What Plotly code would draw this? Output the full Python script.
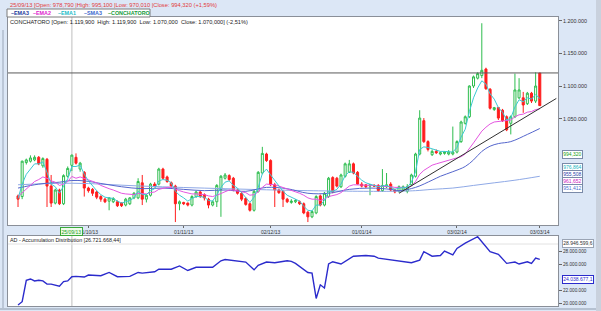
import plotly.graph_objects as go
import pandas as pd

# ---------------- data ----------------
dates = pd.bdate_range("2013-09-06", "2014-03-03")
date_labels = [d.strftime("%d/%m/%y") for d in dates]
idx = list(range(len(dates)))

# OHLC in thousands of CLP
opens = [932,931,983,985,987,991,978,988,947,921,
         941,920,962,978.79,991,973,968,944,942,938,
         931,927,924,923,923,921,918,920,929,929,
         952,927,933,950,950,973,961,952,947,920,
         922,921,918,931,938,934,927,918,923,942,
         959,963,959,941,936,928,920,910,939,967,
         996,986,949,941,939,927,922,923,923,920,
         907,900,906,932,918,931,960,959,946,962,
         968,981,968,950,949,947,948,948,940,946,
         950,941,939,941,939,949,962,996,1047,1015,
         995,1000,996,997,996,996,999,1015,1043,1053,
         1100,1112,1116,1126,1095,1064,1067,1063,1053,1043,
         1053,1082,1082,1073,1089,1077,1119.9]
highs = [934,986,989,994,994,993,991,990,964,943,
         943,965,977,995.1,997,984,970,946,944,940,
         933,929,930,930,925,922,929,930,938,959,
         964,935,952,953,975,975,963,954,949,925,
         923,922,933,940,940,936,929,925,950,964,
         967,965,961,943,938,930,922,941,970,1007,
         998,988,952,943,941,929,927,927,925,922,
         909,910,933,934,938,961,962,961,966,983,
         987,983,970,953,950,950,950,950,973,967,
         953,943,948,948,950,966,998,1063,1051,1017,
         1003,1003,1000,1000,1002,1038,1017,1047,1055,1101,
         1116,1121,1196,1128,1097,1068,1068,1065,1055,1055,
         1119,1112,1091,1091,1091,1121,1119.9]
lows = [915,927,980,983,985,979,975,915,915,919,
        918,918,960,970.01,980,969,931,937,932,927,
        923,921,910,921,915,915,916,918,927,927,
        918,922,931,945,948,957,952,945,892,910,
        918,916,916,929,929,925,913,916,915,900,
        957,955,939,934,924,917,908,908,937,965,
        984,947,915,935,915,921,920,921,918,904,
        892,898,904,916,916,929,936,945,944,960,
        967,965,949,945,944,933,946,938,938,944,
        939,936,937,939,936,947,960,994,1013,1000,
        993,996,994,995,994,994,997,1013,1041,1051,
        1097,1110,1112,1094,1064,1062,1048,1045,1031,1026,
        1051,1080,1059,1071,1074,1074,1070.0]
closes = [927,985,987,990,991,981,989,947,921,941,
          920,963,974,994.32,982,982,944,940,936,930,
          927,923,929,928,917,917,927,929,936,954,
          927,933,950,947,973,959,954,947,920,923,
          920,918,931,938,931,929,918,923,948,962,
          964,957,941,936,927,919,910,939,968,997,
          986,949,941,937,927,923,924,925,920,906,
          900,908,931,918,936,959,938,947,964,981,
          981,967,950,947,946,949,947,940,948,949,
          941,938,946,946,946,964,996,1051,1015,1003,
          1000,998,998,999,999,999,1015,1045,1053,1100,
          1114,1119,1124,1096,1066,1067,1051,1047,1033,1053,
          1094,1094,1071,1089,1077,1100,1070.0]

ema1 = [928,950,965,974,981,981,984,968,950,946,
        936,947,958,977,977,979,965,955,947,940,
        934,930,929,928,924,921,923,925,929,939,
        934,934,940,943,955,957,956,952,939,933,
        929,924,928,931,931,930,925,924,934,945,
        953,955,948,944,937,930,922,930,945,966,
        973,964,955,948,939,933,930,928,924,916,
        910,909,918,918,925,939,939,942,950,963,
        969,968,962,956,952,950,949,946,947,948,
        945,942,944,945,945,953,969,1003,1007,1006,
        1004,1002,1000,1000,999,999,1006,1022,1034,1061,
        1082,1097,1108,1103,1088,1080,1067,1060,1048,1051,
        1068,1079,1076,1082,1080,1087,1081]
ema2 = [931,937,943,948,954,957,961,959,955,953,
        948,950,954,961.7,959,961,959,957,955,952,
        948,945,943,941,938,936,935,934,934,936,
        935,935,937,938,942,944,945,945,942,940,
        938,936,935,935,935,934,932,931,933,936,
        939,941,941,940,939,937,933,934,938,945,
        950,950,949,947,945,942,940,938,936,933,
        929,927,927,925,927,931,932,934,937,942,
        947,949,949,949,948,948,948,947,947,947,
        946,945,945,945,945,947,954,965,971,975,
        979,981,983,985,987,988,990,992,996,1004,
        1013,1022,1031,1037,1042,1045,1046,1047,1047,1048,
        1053,1056,1057,1060,1061,1064,1065]
ema3_x = [0,5,10,13,16,20,25,30,35,40,45,50,55,60,65,70,75,80,85,90,92,96,100,102,105,108,110,112,114,116,119,123,126]
ema3 = [944,950,953,955.5,955,951,946,943,944,942,940,941,939,945,943,936,936,942,944,942,940,945,956,962,969,977,987,1000,1008,1012,1015,1026,1035]
sma3_x = [0,13,30,50,70,90,96,100,105,110,115,120,126]
sma3 = [949,951.4,947,943,940,939,940,942,944,948,952,956,962]

trend_x = [92, 130]
trend_y = [936, 1081]
resistance = 1120

# Accumulation distribution (millions)
ad_x = [0,1,2,3,4,5,6,7,8,10,11,12,13,14,16,17,20,22,24,27,29,30,33,34,37,39,41,43,47,49,50,
        55,57,58,60,62,65,66,67,68,70,71,72,73,74,75,76,78,81,84,86,87,91,95,97,98,100,102,103,
        105,106,108,111,112,114,116,118,120,121,123,124,125,126]
ad_y = [19.7,20.2,23.5,23.7,23.4,23.5,23.4,22.9,22.9,22.6,23.3,23.4,24.04,24.1,24.0,24.3,24.2,24.7,24.05,24.1,24.7,24.6,24.8,25.2,25.2,25.7,25.0,25.5,25.5,26.5,26.7,
        26.3,25.1,25.8,26.3,26.2,26.5,26.4,26.1,25.6,24.7,24.6,20.7,22.8,22.3,26.0,26.35,26.0,27.2,27.3,27.2,26.9,26.5,26.2,26.6,27.9,27.2,27.3,28.0,
        27.4,28.4,29.2,30.2,29.4,27.9,27.5,26.1,26.3,26.0,26.35,26.1,26.9,26.72]

price_ticks = [1050000, 1100000, 1150000, 1200000]
ad_ticks = [20e6, 22e6, 26e6, 28e6]
cursor_label = "25/09/13"
tag_values = [994.320, 976.864, 955.508, 961.652, 951.412]

# ---------------- helpers ----------------
K = 1000
W, H = 601, 311
def px(x): return x / W
def py(y): return (H - y) / H

cursor = date_labels.index(cursor_label)
month_ticks = [i for i in range(1, len(dates)) if dates[i].month != dates[i - 1].month]

FONT = "Liberation Sans"
fig = go.Figure()

fig.add_trace(go.Candlestick(
    x=idx, open=[v * K for v in opens], high=[v * K for v in highs],
    low=[v * K for v in lows], close=[v * K for v in closes],
    increasing=dict(line=dict(color="#2ebd4e", width=1), fillcolor="#ffffff"),
    decreasing=dict(line=dict(color="#ff1e1e", width=1), fillcolor="#ff1e1e"),
    whiskerwidth=0, xaxis="x", yaxis="y", hoverinfo="skip", showlegend=False))

fig.add_trace(go.Scatter(x=sma3_x, y=[v * K for v in sma3], mode="lines", line_shape="spline",
                         line=dict(color="#8fa9e6", width=1), xaxis="x", yaxis="y", showlegend=False))
fig.add_trace(go.Scatter(x=ema3_x, y=[v * K for v in ema3], mode="lines", line_shape="spline",
                         line=dict(color="#5566cc", width=1), xaxis="x", yaxis="y", showlegend=False))
fig.add_trace(go.Scatter(x=idx, y=[v * K for v in ema2], mode="lines",
                         line=dict(color="#e455e0", width=1), xaxis="x", yaxis="y", showlegend=False))
fig.add_trace(go.Scatter(x=idx, y=[v * K for v in ema1], mode="lines",
                         line=dict(color="#3cc8d2", width=1), xaxis="x", yaxis="y", showlegend=False))
fig.add_trace(go.Scatter(x=trend_x, y=[v * K for v in trend_y], mode="lines",
                         line=dict(color="#303030", width=1), xaxis="x", yaxis="y", showlegend=False))

fig.add_trace(go.Scatter(x=ad_x, y=[v * 1e6 for v in ad_y], mode="lines",
                         line=dict(color="#2b2bcc", width=1.4), xaxis="x2", yaxis="y2", showlegend=False))

xrange = [-2.42, 130.4]
axis_common = dict(showgrid=False, zeroline=False, showline=True, mirror=True,
                   linecolor="#8a8f98", linewidth=1)
fig.update_layout(
    width=W, height=H, margin=dict(l=0, r=0, t=0, b=0),
    paper_bgcolor="#dce7f6", plot_bgcolor="#ffffff",
    separators=",.", showlegend=False, hovermode=False,
    font=dict(family=FONT, size=5, color="#333333"),
    xaxis=dict(domain=[px(8), px(558)], anchor="y", range=xrange,
               tickvals=month_ticks, ticktext=[date_labels[i] for i in month_ticks],
               ticks="outside", ticklen=2, tickcolor="#666666",
               tickfont=dict(size=5, color="#333333"),
               rangeslider=dict(visible=False), **axis_common),
    yaxis=dict(domain=[py(225), py(16.7)], anchor="x", side="right", range=[887500, 1206000],
               tickvals=price_ticks, tickformat=",d", ticks="outside", ticklen=3,
               tickcolor="#666666", tickfont=dict(size=5.4, color="#333333"), **axis_common),
    xaxis2=dict(domain=[px(8), px(558)], anchor="y2", range=xrange,
                showticklabels=False, ticks="", **axis_common),
    yaxis2=dict(domain=[py(306), py(236)], anchor="x2", side="right", range=[19.54e6, 30.31e6],
                tickvals=ad_ticks, tickformat=",d", ticks="outside", ticklen=3,
                tickcolor="#666666", tickfont=dict(size=4.7, color="#333333"), **axis_common),
)

shapes = []
shapes.append(dict(type="line", xref="x", yref="y domain", x0=cursor, x1=cursor, y0=0, y1=1,
                   line=dict(color="#d4d4d4", width=1.5), layer="below"))
shapes.append(dict(type="line", xref="x2", yref="y2 domain", x0=cursor, x1=cursor, y0=0, y1=1,
                   line=dict(color="#d4d4d4", width=1.5), layer="below"))
shapes.append(dict(type="line", xref="x domain", yref="y", x0=0, x1=1, y0=resistance * K, y1=resistance * K,
                   line=dict(color="#5a5a5a", width=1)))
shapes.append(dict(type="line", xref="x2 domain", yref="paper", x0=0, x1=1, y0=py(244), y1=py(244),
                   line=dict(color="#e2e2e2", width=1), layer="below"))
shapes.append(dict(type="rect", xref="paper", yref="paper", x0=px(7), x1=px(150), y0=py(17), y1=py(9),
                   line=dict(color="#7d7d7d", width=1), fillcolor="#ffffff"))
shapes.append(dict(type="rect", xref="paper", yref="paper", x0=px(596), x1=1, y0=0, y1=1,
                   line=dict(width=0), fillcolor="#c9d1dd"))
shapes.append(dict(type="line", xref="paper", yref="paper", x0=px(3), x1=px(3), y0=py(308), y1=py(30),
                   line=dict(color="#9aa6b8", width=1)))
shapes.append(dict(type="line", xref="paper", yref="paper", x0=0, x1=px(596), y0=py(309), y1=py(309),
                   line=dict(color="#a9b4c4", width=1.5)))
fig.update_layout(shapes=shapes)

ann = []
ann.append(dict(text="25/09/13 [Open: 978,790 |High: 995,100 |Low: 970,010 |Close: 994,320 (+1,59%)",
                x=px(8), y=py(5), xref="paper", yref="paper", xanchor="left", yanchor="middle",
                showarrow=False, font=dict(size=5.75, color="#e23a3a")))
legend_items = [("EMA3", "#23389a", 9), ("EMA2", "#dd22cc", 31), ("EMA1", "#22bcc8", 56),
                ("SMA3", "#3a66cc", 82), ("CONCHATORO", "#139a3a", 106)]
for name, col, xx in legend_items:
    ann.append(dict(text="<b>\u2013" + name + "</b>", x=px(xx), y=py(13), xref="paper", yref="paper",
                    xanchor="left", yanchor="middle", showarrow=False, font=dict(size=5.4, color=col)))
ann.append(dict(text="CONCHATORO [Open: 1.119,900  High: 1.119,900  Low: 1.070,000  Close: 1.070,000] (-2,51%)",
                x=px(8), y=py(22), xref="paper", yref="paper", xanchor="left", yanchor="middle",
                showarrow=False, font=dict(size=5.6, color="#222222")))
ann.append(dict(text="AD - Accumulation Distribution [26.721.668,44]",
                x=px(8), y=py(240), xref="paper", yref="paper", xanchor="left", yanchor="middle",
                showarrow=False, font=dict(size=5.35, color="#222222")))
ann.append(dict(text=cursor_label, x=cursor, y=py(231), xref="x", yref="paper", xanchor="center",
                yanchor="middle", showarrow=False, font=dict(size=5, color="#18a018"),
                bgcolor="#eefbea", bordercolor="#3aa83a", borderwidth=1, borderpad=0.5))
def fmt3(v): return f"{v:.3f}".replace(".", ",")
tag_cols = ["#14a014", "#18b4c0", "#2a40a8", "#cc20c0", "#4a70d0"]
tag_y = [154, 168, 175, 182, 189]
for v, c, yy in zip(tag_values, tag_cols, tag_y):
    ann.append(dict(text=fmt3(v), x=px(562), y=py(yy), xref="paper", yref="paper", xanchor="left",
                    yanchor="middle", showarrow=False, font=dict(size=5, color=c),
                    bgcolor="#ffffff", bordercolor="#7a8aa8", borderwidth=1, borderpad=0.3))
ann.append(dict(text="28.946.599,6", x=px(562), y=py(244), xref="paper", yref="paper", xanchor="left",
                yanchor="middle", showarrow=False, font=dict(size=5, color="#333333"),
                bgcolor="#ffffff", bordercolor="#9aa4b4", borderwidth=1, borderpad=0.3))
ann.append(dict(text="24.038.677,1", x=px(562), y=py(279), xref="paper", yref="paper", xanchor="left",
                yanchor="middle", showarrow=False, font=dict(size=5, color="#2b2bcc"),
                bgcolor="#ffffff", bordercolor="#2b2bcc", borderwidth=1, borderpad=0.3))
fig.update_layout(annotations=ann)

fig.write_html("out.html")
